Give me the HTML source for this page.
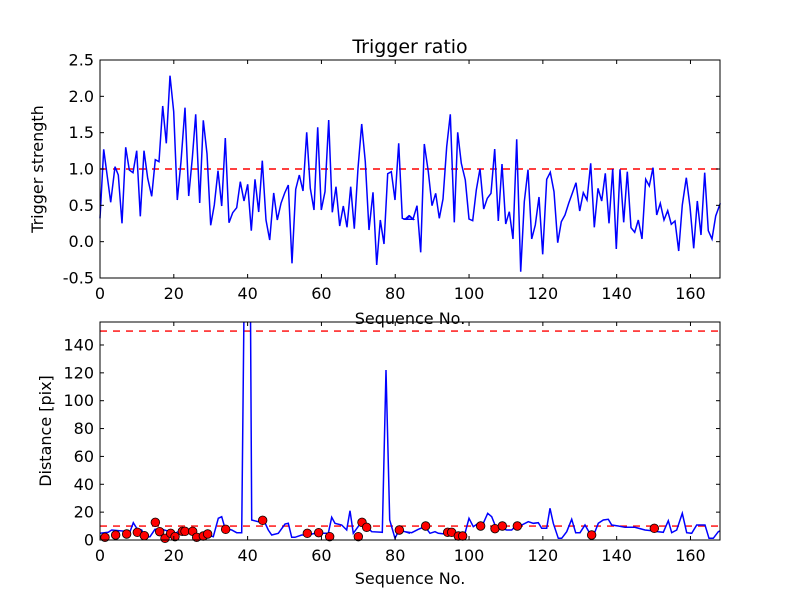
<!DOCTYPE html>
<html><head><meta charset="utf-8"><style>
html,body{margin:0;padding:0;background:#fff;}
svg text{font-family:"DejaVu Sans","Liberation Sans",sans-serif;font-size:16px;fill:#000;}
</style></head><body>
<svg id="s" width="800" height="600" xmlns="http://www.w3.org/2000/svg">
<rect width="800" height="600" fill="#fff"/>
<text x="410" y="53" text-anchor="middle" style="font-size:19px">Trigger ratio</text>
<g id="top"></g>
<g id="bot"></g>
<text x="410" y="324" text-anchor="middle">Sequence No.</text>
<text x="410" y="584" text-anchor="middle">Sequence No.</text>
<text transform="translate(43,169) rotate(-90)" text-anchor="middle">Trigger strength</text>
<text transform="translate(51,431) rotate(-90)" text-anchor="middle">Distance [pix]</text>
</svg>
<script>
var NS="http://www.w3.org/2000/svg";
function el(p,t,a){var e=document.createElementNS(NS,t);for(var k in a)e.setAttribute(k,a[k]);p.appendChild(e);return e;}
function txt(p,x,y,s,anc){var e=el(p,"text",{x:x,y:y,"text-anchor":anc});e.textContent=s;}
var L=100,R=720,sx=620/168;
var T=document.getElementById("top"),B=document.getElementById("bot");
var t0=60,t1=278,ty=function(v){return t0+(2.5-v)*(218/3);};
var z1=[[15,490],[26,283],[47,442],[60,335],[70,360],[81,505],[92,277],[103,345],[114,353],[125,287],[136,484],[147,287],[158,370],[170,424],[181,314],[192,320],[203,153],[214,265],[225,62],[236,170],[247,435],[258,320],[270,158],[281,423],[292,310],[302,178],[314,444],[325,196],[336,296],[347,511],[358,450],[369,347],[380,453],[391,249],[402,503],[413,473],[425,458],[436,380],[447,438],[458,388],[469,527],[480,373],[491,471],[502,317],[513,495],[524,555],[536,414],[547,495],[558,445],[569,414],[580,390],[591,625],[602,403],[613,360],[624,408],[635,232],[646,400],[657,465],[668,217],[679,465],[690,410],[701,195],[712,472],[723,395],[734,513],[745,453],[756,517],[767,395],[778,521],[789,340],[800,207],[811,320],[822,525],[834,412],[845,630],[856,495],[867,567],[878,356],[889,350],[900,435],[911,265],[922,490],[933,493],[944,483],[955,493]];
var z2=[[0,493],[12,482],[24,493],[36,452],[47,592],[58,267],[70,350],[81,452],[92,415],[103,490],[114,432],[125,275],[136,178],[148,502],[158,232],[169,325],[181,375],[192,492],[203,497],[214,405],[225,341],[236,462],[247,430],[258,415],[269,282],[280,498],[291,327],[302,507],[313,470],[324,552],[335,253],[347,650],[358,440],[369,344],[380,552],[391,510],[402,426],[413,598],[425,373],[436,352],[447,410],[458,563],[469,500],[480,480],[491,445],[502,415],[513,383],[524,468],[535,413],[546,435],[557,325],[568,517],[579,400],[590,438],[601,355],[612,505],[623,342],[634,582],[645,343],[656,502],[667,350],[678,518],[689,532],[700,495],[711,552],[722,373],[733,393],[744,338],[755,480],[766,445],[777,495],[788,467],[799,508],[810,498],[821,588],[832,450],[844,368],[855,455],[866,580],[877,438],[888,540],[899,353],[910,527],[921,552],[932,483],[946,445]];
var pts=[];z1.forEach(function(p){pts.push((95+p[0]/3).toFixed(1)+","+(55+p[1]/3).toFixed(1));});
z2.forEach(function(p){pts.push((405+p[0]/3).toFixed(1)+","+(55+p[1]/3).toFixed(1));});
el(T,"line",{x1:L,x2:R,y1:ty(1),y2:ty(1),stroke:"#f00","stroke-width":1.4,"stroke-dasharray":"7,6"});
el(T,"polyline",{points:pts.join(" "),fill:"none",stroke:"#00f","stroke-width":1.5});
el(T,"rect",{x:L,y:t0,width:R-L,height:t1-t0,fill:"none",stroke:"#000","stroke-width":1});
for(var v=0;v<=160;v+=20){var x=L+v*sx;el(T,"line",{x1:x,x2:x,y1:t1,y2:t1-4,stroke:"#000"});el(T,"line",{x1:x,x2:x,y1:t0,y2:t0+4,stroke:"#000"});txt(T,x,t1+21,v,"middle");}
for(var i=0;i<=6;i++){var v=-0.5+i*0.5,y=ty(v);el(T,"line",{x1:L,x2:L+4,y1:y,y2:y,stroke:"#000"});el(T,"line",{x1:R,x2:R-4,y1:y,y2:y,stroke:"#000"});txt(T,94,y+5.5,v.toFixed(1),"end");}
var b0=322,b1=540,by=function(v){return b1-v*(218/156.5);};
var q3=[[15,160],[40,157],[50,150],[105,155],[115,128],[125,145],[140,150],[150,172],[165,170],[180,148],[200,148],[215,152],[240,160],[260,150],[290,152],[310,168],[340,165],[355,170],[370,115],[380,110],[390,145],[410,150],[425,158],[440,158],[448,-600],[466,-600],[470,120],[490,125],[505,118],[520,150],[530,165],[550,160],[570,132],[580,130],[590,172],[600,172],[620,165],[640,165],[660,160],[700,160],[710,112],[720,130],[740,135],[755,150],[765,92],[775,160],[800,125],[815,140],[830,155],[862,157],[873,-330],[884,120],[900,175],[912,150],[930,155],[945,160]];
var q4=[[0,155],[20,158],[40,148],[60,140],[75,160],[90,155],[100,160],[120,162],[160,162],[180,160],[192,115],[205,140],[220,130],[235,130],[248,100],[260,110],[270,135],[290,145],[305,150],[320,150],[335,135],[350,135],[370,125],[385,130],[400,128],[410,145],[425,145],[435,85],[445,130],[460,175],[470,175],[485,155],[500,118],[512,158],[525,158],[540,135],[560,170],[570,155],[580,130],[595,120],[610,118],[620,135],[640,138],[660,142],[690,142],[720,150],[740,152],[760,155],[775,157],[790,122],[800,158],[815,150],[832,100],[845,158],[860,160],[875,135],[900,135],[912,175],[925,175],[940,155],[946,152]];
var bp=[];q3.forEach(function(p){bp.push((95+p[0]/3).toFixed(1)+","+(480+p[1]/3).toFixed(1));});
q4.forEach(function(p){bp.push((405+p[0]/3).toFixed(1)+","+(480+p[1]/3).toFixed(1));});
var cp=el(B,"clipPath",{id:"cb"});el(cp,"rect",{x:L,y:b0,width:R-L,height:b1-b0});
el(B,"line",{x1:L,x2:R,y1:by(10),y2:by(10),stroke:"#f00","stroke-width":1.4,"stroke-dasharray":"7,6"});
el(B,"line",{x1:L,x2:R,y1:by(150),y2:by(150),stroke:"#f00","stroke-width":1.4,"stroke-dasharray":"7,6"});
el(B,"polyline",{points:bp.join(" "),fill:"none",stroke:"#00f","stroke-width":1.5,"clip-path":"url(#cb)"});
var d3=[[30,172],[62,165],[95,162],[127,157],[148,167],[181,127],[194,155],[210,175],[227,160],[240,170],[262,154],[270,154],[293,154],[305,172],[325,168],[338,162],[392,148],[503,121],[637,160],[671,158],[704,170],[790,170],[801,127],[815,142],[913,150]];
var d4=[[62,138],[128,157],[140,157],[160,168],[173,168],[227,138],[270,146],[292,138],[337,138],[560,165],[748,145]];
var g=el(B,"g",{});
d3.forEach(function(p){el(g,"circle",{cx:95+p[0]/3,cy:480+p[1]/3,r:4.3,fill:"#f00",stroke:"#000","stroke-width":0.8});});
d4.forEach(function(p){el(g,"circle",{cx:405+p[0]/3,cy:480+p[1]/3,r:4.3,fill:"#f00",stroke:"#000","stroke-width":0.8});});
el(B,"rect",{x:L,y:b0,width:R-L,height:b1-b0,fill:"none",stroke:"#000","stroke-width":1});
for(var v=0;v<=160;v+=20){var x=L+v*sx;el(B,"line",{x1:x,x2:x,y1:b1,y2:b1-4,stroke:"#000"});el(B,"line",{x1:x,x2:x,y1:b0,y2:b0+4,stroke:"#000"});txt(B,x,b1+21,v,"middle");}
for(var v=0;v<=140;v+=20){var y=by(v);el(B,"line",{x1:L,x2:L+4,y1:y,y2:y,stroke:"#000"});el(B,"line",{x1:R,x2:R-4,y1:y,y2:y,stroke:"#000"});txt(B,94,y+5.5,v,"end");}
</script>
</body></html>
